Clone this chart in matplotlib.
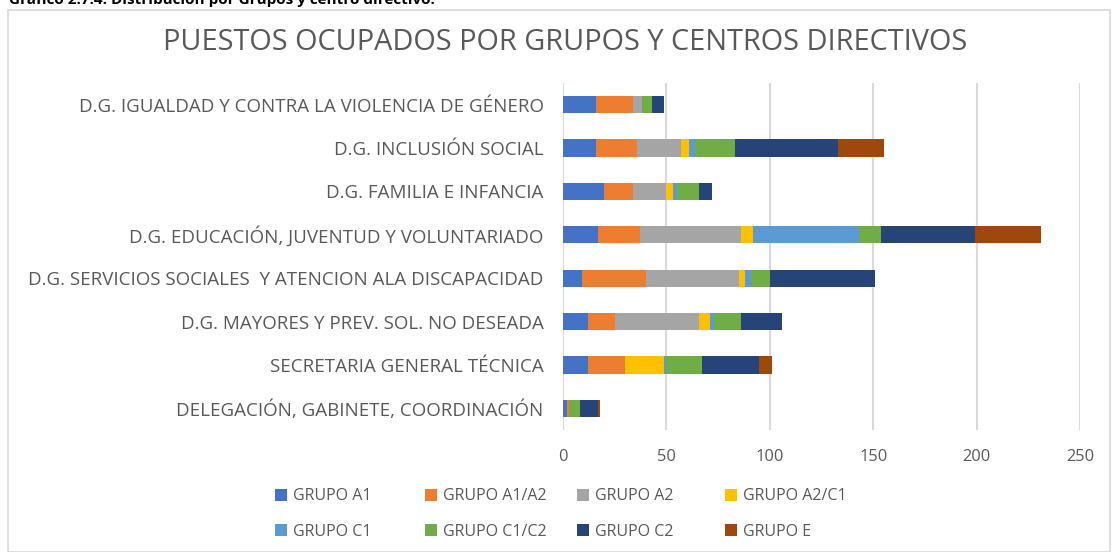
import numpy as np
import matplotlib.pyplot as plt
from matplotlib.patches import Rectangle

plt.rcParams["font.family"] = ["Open Sans", "DejaVu Sans"]

# -----------------------------
# DATA (top to bottom as shown)
# -----------------------------
centros = [
    "D.G. IGUALDAD Y CONTRA LA VIOLENCIA DE GÉNERO",
    "D.G. INCLUSIÓN SOCIAL",
    "D.G. FAMILIA E INFANCIA",
    "D.G. EDUCACIÓN, JUVENTUD Y VOLUNTARIADO",
    "D.G. SERVICIOS SOCIALES  Y ATENCION ALA DISCAPACIDAD",
    "D.G. MAYORES Y PREV. SOL. NO DESEADA",
    "SECRETARIA GENERAL TÉCNICA",
    "DELEGACIÓN, GABINETE, COORDINACIÓN",
]

grupos = ["GRUPO A1", "GRUPO A1/A2", "GRUPO A2", "GRUPO A2/C1",
          "GRUPO C1", "GRUPO C1/C2", "GRUPO C2", "GRUPO E"]

grupo_a1   = [16, 16, 20, 17,  9, 12, 12, 2]
grupo_a1a2 = [18, 20, 14, 20, 31, 13, 18, 1]
grupo_a2   = [ 4, 21, 16, 49, 45, 41,  0, 0]
grupo_a2c1 = [ 0,  4,  3,  6,  3,  5, 19, 0]
grupo_c1   = [ 0,  3,  2, 51,  3,  2,  1, 0]
grupo_c1c2 = [ 5, 19, 11, 11,  9, 13, 17, 5]
grupo_c2   = [ 6, 50,  6, 45, 51, 20, 28, 9]
grupo_e    = [ 0, 22,  0, 32,  0,  0,  6, 1]

series = [grupo_a1, grupo_a1a2, grupo_a2, grupo_a2c1,
          grupo_c1, grupo_c1c2, grupo_c2, grupo_e]
colores = ["#4472C4", "#ED7D31", "#A5A5A5", "#FFC000",
           "#5B9BD5", "#70AD47", "#264478", "#9E480E"]

TEXT_GREY = "#595959"

# -----------------------------
# FIGURE
# -----------------------------
W, H = 1114, 552
fig = plt.figure(figsize=(W / 100, H / 100), dpi=100)

# chart frame (as in the Excel export)
fig.patches.append(Rectangle((8 / W, 0), (1110 - 8) / W, 1 - 10 / H,
                             transform=fig.transFigure, fill=False,
                             edgecolor="#D9D9D9", lw=1.2))

# caption above the chart, cut at the top edge like the source image
fig.text(0.008, 1.0, "Gráfico 2.7.4. Distribución por Grupos y centro directivo.",
         ha="left", va="center", fontsize=11, fontweight="bold", color="black")

ax = fig.add_axes([563 / W, 1 - 430 / H, (1080 - 563) / W, (430 - 83) / H])

y = np.arange(len(centros))
left = np.zeros(len(centros))
for vals, col, name in zip(series, colores, grupos):
    vals = np.array(vals, dtype=float)
    ax.barh(y, vals, left=left, height=0.4, color=col, label=name)
    left += vals

ax.set_xlim(0, 250)
ax.set_ylim(len(centros) - 0.5, -0.5)
ax.set_xticks(np.arange(0, 251, 50))
ax.set_yticks(y)
ax.set_yticklabels(centros, fontsize=13.5)
ax.tick_params(axis="both", length=0, colors=TEXT_GREY)
ax.tick_params(axis="x", labelsize=11.8, pad=14)
ax.tick_params(axis="y", pad=14)
ax.grid(True, axis="x", color="#D9D9D9", lw=1.5)
ax.set_axisbelow(True)
for s in ax.spines.values():
    s.set_visible(False)

fig.text(565 / W, 1 - 43 / H, "PUESTOS OCUPADOS POR GRUPOS Y CENTROS DIRECTIVOS",
         ha="center", va="center", fontsize=20.8, color=TEXT_GREY)

# legend: 2 rows x 4 columns, filled row by row, equally spaced columns
handles, labels = ax.get_legend_handles_labels()
col_x = [275, 425, 577, 725]
for c, x in enumerate(col_x):
    fig.legend([handles[c], handles[c + 4]], [labels[c], labels[c + 4]],
               loc="center left", bbox_to_anchor=(x / W, 1 - 514 / H),
               frameon=False, fontsize=11.5, labelcolor=TEXT_GREY,
               handlelength=0.75, handleheight=0.75, handletextpad=0.35,
               labelspacing=1.2, borderpad=0, borderaxespad=0)

fig.savefig("out.png", dpi=100)
